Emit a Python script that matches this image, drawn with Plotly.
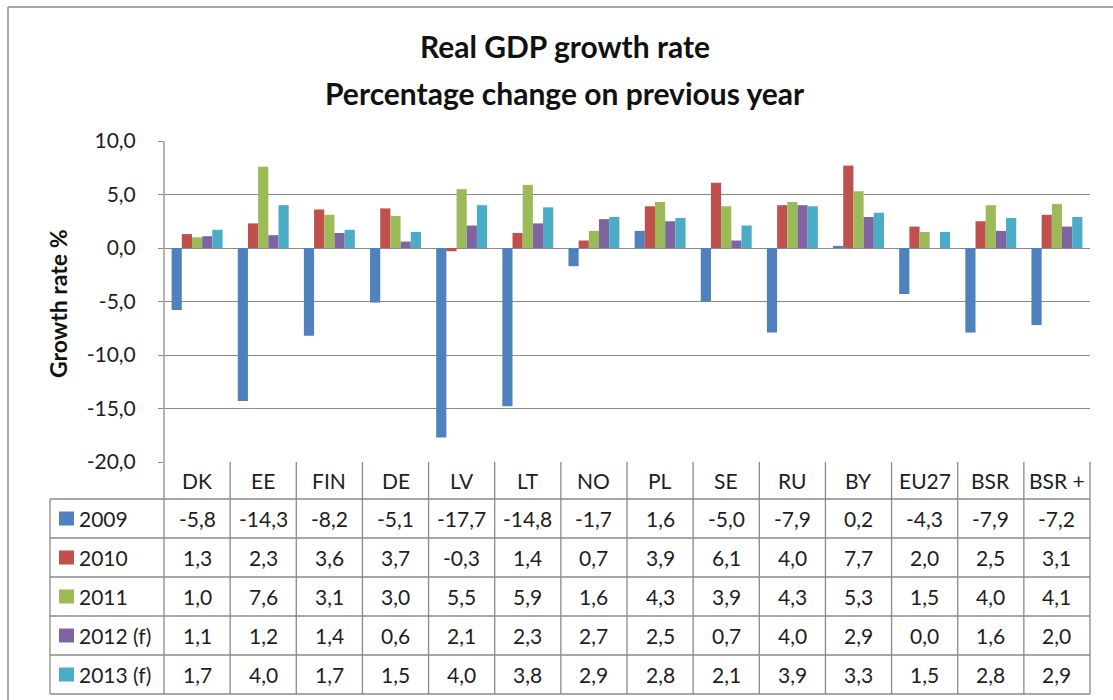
import plotly.graph_objects as go

# Real GDP growth, % change on previous year
categories = ["DK", "EE", "FIN", "DE", "LV", "LT", "NO", "PL", "SE", "RU", "BY", "EU27", "BSR", "BSR +"]
series_names = ["2009", "2010", "2011", "2012 (f)", "2013 (f)"]
g2009 = [-5.8, -14.3, -8.2, -5.1, -17.7, -14.8, -1.7, 1.6, -5.0, -7.9, 0.2, -4.3, -7.9, -7.2]
g2010 = [1.3, 2.3, 3.6, 3.7, -0.3, 1.4, 0.7, 3.9, 6.1, 4.0, 7.7, 2.0, 2.5, 3.1]
g2011 = [1.0, 7.6, 3.1, 3.0, 5.5, 5.9, 1.6, 4.3, 3.9, 4.3, 5.3, 1.5, 4.0, 4.1]
g2012 = [1.1, 1.2, 1.4, 0.6, 2.1, 2.3, 2.7, 2.5, 0.7, 4.0, 2.9, 0.0, 1.6, 2.0]
g2013 = [1.7, 4.0, 1.7, 1.5, 4.0, 3.8, 2.9, 2.8, 2.1, 3.9, 3.3, 1.5, 2.8, 2.9]
y_ticks = [10, 5, 0, -5, -10, -15, -20]

series_values = [g2009, g2010, g2011, g2012, g2013]
colors = ["#4F81BD", "#C0504D", "#9BBB59", "#8064A2", "#4BACC6"]

FONT = "Lato"
TEXT = "#1e1e1e"
LINE = "#8a8a8a"
CELL_SIZE = 21

W, H = 1113, 700
PL, PR, PT, PB = 164, 1090, 141, 462      # plot area edges (px)
HEADER_BOTTOM = 499
ROW_H = 39
LEGEND_LEFT = 50


def fx(px):
    return (px - PL) / (PR - PL)


def fy(py):
    return (PB - py) / (PB - PT)


def fmt(v):
    return f"{v:.1f}".replace(".", ",")


fig = go.Figure()
for name, vals, col in zip(series_names, series_values, colors):
    fig.add_trace(go.Bar(x=categories, y=vals, name=name, marker=dict(color=col, line=dict(width=0))))

shapes = []
annotations = []

# outer chart frame
shapes.append(dict(type="line", xref="paper", yref="paper", x0=fx(8), x1=fx(W + 5), y0=fy(7), y1=fy(7),
                   line=dict(color="#a8a8a8", width=2)))
shapes.append(dict(type="line", xref="paper", yref="paper", x0=fx(8), x1=fx(8), y0=fy(7), y1=fy(H + 5),
                   line=dict(color="#a8a8a8", width=2)))

# data table grid
row_lines = [HEADER_BOTTOM + i * ROW_H for i in range(len(series_names) + 1)]
table_bottom = row_lines[-1]
for yl in row_lines:
    shapes.append(dict(type="line", xref="paper", yref="paper", x0=fx(LEGEND_LEFT), x1=fx(PR),
                       y0=fy(yl), y1=fy(yl), line=dict(color=LINE, width=1.3)))
shapes.append(dict(type="line", xref="paper", yref="paper", x0=fx(LEGEND_LEFT), x1=fx(LEGEND_LEFT),
                   y0=fy(HEADER_BOTTOM), y1=fy(table_bottom), line=dict(color=LINE, width=1.3)))
shapes.append(dict(type="line", xref="paper", yref="paper", x0=0, x1=0,
                   y0=fy(PT), y1=fy(table_bottom), line=dict(color=LINE, width=1.3)))
shapes.append(dict(type="line", xref="paper", yref="paper", x0=1, x1=1,
                   y0=fy(PB), y1=fy(table_bottom), line=dict(color=LINE, width=1.3)))
for i in range(len(categories) - 1):
    shapes.append(dict(type="line", xref="x", yref="paper", x0=i + 0.5, x1=i + 0.5,
                       y0=fy(PB), y1=fy(table_bottom), line=dict(color=LINE, width=1.3)))

# header row: category names
header_mid = (PB + HEADER_BOTTOM) / 2
for c in categories:
    annotations.append(dict(x=c, xref="x", y=fy(header_mid), yref="paper", text=c, showarrow=False,
                            xanchor="center", yanchor="middle",
                            font=dict(family=FONT, size=CELL_SIZE, color=TEXT)))

# series rows: legend key + values
for r, (name, vals, col) in enumerate(zip(series_names, series_values, colors)):
    mid = HEADER_BOTTOM + r * ROW_H + ROW_H / 2
    shapes.append(dict(type="rect", xref="paper", yref="paper", x0=fx(59), x1=fx(74),
                       y0=fy(mid - 7), y1=fy(mid + 7), fillcolor=col, line=dict(width=0)))
    annotations.append(dict(x=fx(77), xref="paper", y=fy(mid), yref="paper", text=name, showarrow=False,
                            xanchor="left", yanchor="middle",
                            font=dict(family=FONT, size=CELL_SIZE, color=TEXT)))
    for c, v in zip(categories, vals):
        annotations.append(dict(x=c, xref="x", y=fy(mid), yref="paper", text=fmt(v), showarrow=False,
                                xanchor="center", yanchor="middle",
                                font=dict(family=FONT, size=CELL_SIZE, color=TEXT)))

# titles
annotations.append(dict(x=fx(565), xref="paper", y=fy(46), yref="paper", text="<b>Real GDP growth rate</b>",
                        showarrow=False, xanchor="center", yanchor="middle",
                        font=dict(family=FONT, size=30, color="#111111")))
annotations.append(dict(x=fx(565), xref="paper", y=fy(93), yref="paper",
                        text="<b>Percentage change on previous year</b>",
                        showarrow=False, xanchor="center", yanchor="middle",
                        font=dict(family=FONT, size=30, color="#111111")))
annotations.append(dict(x=fx(58), xref="paper", y=fy(304), yref="paper", text="<b>Growth rate %</b>",
                        textangle=-90, showarrow=False, xanchor="center", yanchor="middle",
                        font=dict(family=FONT, size=23, color="#111111")))

fig.update_layout(
    width=W, height=H,
    margin=dict(l=PL, r=W - PR, t=PT, b=H - PB, pad=0),
    paper_bgcolor="white", plot_bgcolor="white",
    barmode="group", bargap=0.23, bargroupgap=0,
    showlegend=False,
    shapes=shapes, annotations=annotations,
    font=dict(family=FONT, color=TEXT),
)
fig.update_xaxes(range=[-0.5, len(categories) - 0.5], showticklabels=False, showgrid=False,
                 zeroline=False, showline=False, ticks="")
fig.update_yaxes(range=[-20, 10], tickvals=y_ticks, ticktext=[fmt(t) for t in y_ticks],
                 showgrid=True, gridcolor=LINE, gridwidth=1.3, zeroline=True, zerolinecolor=LINE,
                 zerolinewidth=1.3, showline=False, ticks="outside", ticklen=5, tickcolor=LINE,
                 ticklabelstandoff=18, tickfont=dict(family=FONT, size=21, color=TEXT))

fig.write_html("out.html")
